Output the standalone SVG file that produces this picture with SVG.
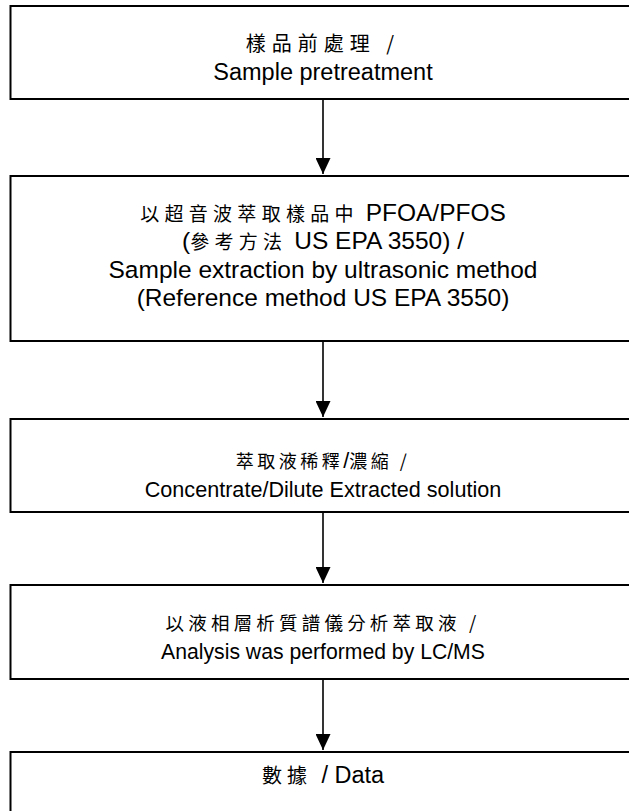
<svg xmlns="http://www.w3.org/2000/svg" width="629" height="811" viewBox="0 0 629 811">
<style>
.box{fill:#fff;stroke:#000;stroke-width:2}
.zh{font-family:"Noto Sans CJK TC","Noto Sans CJK SC",serif;font-size:19px;letter-spacing:4.5px;fill:#000}
.en{font-family:"Liberation Sans",Arial,sans-serif;font-size:23px;fill:#000}
.conn{stroke:#000;stroke-width:1.6;fill:none}
</style>
<defs>
<marker id="arr" viewBox="0 0 15 16" refX="7.5" refY="16" markerWidth="15" markerHeight="16" markerUnits="userSpaceOnUse" orient="0">
<path d="M0,0 L15,0 L7.5,16 Z" fill="#000"/>
</marker>
</defs>
<rect width="629" height="811" fill="#fff"/>
<g id="connectors">
<line class="conn" x1="323" y1="99" x2="323" y2="174" marker-end="url(#arr)"/>
<line class="conn" x1="323" y1="341" x2="323" y2="417" marker-end="url(#arr)"/>
<line class="conn" x1="323" y1="512" x2="323" y2="583" marker-end="url(#arr)"/>
<line class="conn" x1="323" y1="679" x2="323" y2="750" marker-end="url(#arr)"/>
</g>
<g id="node1">
<rect class="box" x="10.5" y="6" width="626" height="93"/>
<text class="zh" x="323" y="51" text-anchor="middle" style="font-size:20px;letter-spacing:6px">樣品前處理 /</text>
<text class="en" x="323" y="80" text-anchor="middle" style="font-size:23.5px">Sample pretreatment</text>
</g>
<g id="node2">
<rect class="box" x="10.5" y="176" width="626" height="165"/>
<text class="zh" x="323" y="221" text-anchor="middle" style="letter-spacing:5.3px"><tspan>以超音波萃取樣品中</tspan><tspan class="en" letter-spacing="0" style="font-size:24.5px"> PFOA/PFOS</tspan></text>
<text class="zh" x="323" y="249" text-anchor="middle" style="letter-spacing:5.3px"><tspan class="en" letter-spacing="0" style="font-size:24.5px">(</tspan><tspan>參考方法</tspan><tspan class="en" letter-spacing="0" style="font-size:24.5px"> US EPA 3550) /</tspan></text>
<text class="en" x="323" y="278" text-anchor="middle" style="font-size:24.5px">Sample extraction by ultrasonic method</text>
<text class="en" x="323" y="306" text-anchor="middle" style="font-size:24.5px">(Reference method US EPA 3550)</text>
</g>
<g id="node3">
<rect class="box" x="10.5" y="419" width="626" height="93"/>
<text class="zh" x="323" y="468" text-anchor="middle" style="font-size:18px;letter-spacing:3.5px">萃取液稀釋<tspan class="en" letter-spacing="0" style="font-size:21.6px">/</tspan>濃縮 /</text>
<text class="en" x="323" y="497" text-anchor="middle" style="font-size:21.6px">Concentrate/Dilute Extracted solution</text>
</g>
<g id="node4">
<rect class="box" x="10.5" y="585" width="626" height="94"/>
<text class="zh" x="323" y="630" text-anchor="middle" style="font-size:18.5px;letter-spacing:4.2px">以液相層析質譜儀分析萃取液 /</text>
<text class="en" x="323" y="659" text-anchor="middle" style="font-size:21.2px">Analysis was performed by LC/MS</text>
</g>
<g id="node5">
<rect class="box" x="10.5" y="752" width="626" height="80"/>
<text class="zh" x="323" y="783" text-anchor="middle" style="font-size:20px;letter-spacing:5px">數據 <tspan class="en" letter-spacing="0" style="font-size:23.5px">/ Data</tspan></text>
</g>
</svg>
